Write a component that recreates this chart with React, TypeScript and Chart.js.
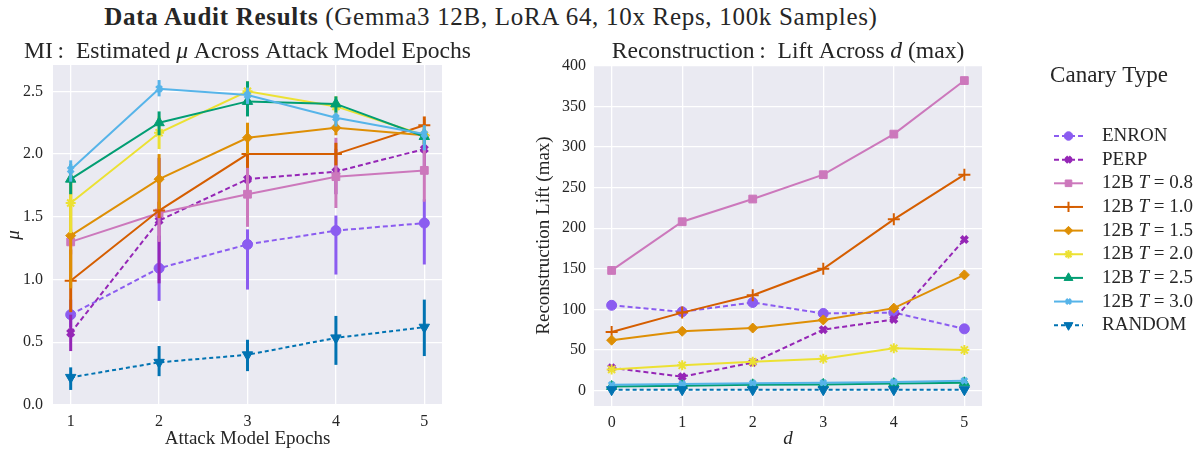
import React, { useEffect, useRef } from "react";
import { Chart, registerables, PointElement } from "chart.js";

Chart.register(...registerables);

const FONT = "'Liberation Serif', 'Times New Roman', serif";
const TEXT = "#262626";
const PANEL_BG = "#eaeaf2";

// ---------- categories / ticks ----------
const epochs = [1, 2, 3, 4, 5];
const depths = [0, 1, 2, 3, 4, 5];
const miYTicks = [0, 0.5, 1.0, 1.5, 2.0, 2.5];
const recYTicks = [0, 50, 100, 150, 200, 250, 300, 350, 400];

const seriesLabels = [
  "ENRON",
  "PERP",
  "12B T = 0.8",
  "12B T = 1.0",
  "12B T = 1.5",
  "12B T = 2.0",
  "12B T = 2.5",
  "12B T = 3.0",
  "RANDOM",
];

// ---------- MI: estimated mu (mean, low, high) ----------
const miEnron = [0.72, 1.09, 1.28, 1.39, 1.45];
const miEnronLo = [0.62, 0.83, 0.92, 1.04, 1.12];
const miEnronHi = [0.84, 1.35, 1.4, 1.51, 1.64];

const miPerp = [0.575, 1.47, 1.8, 1.86, 2.04];
const miPerpLo = [0.43, 0.97, 1.6, 1.68, 1.9];
const miPerpHi = [0.72, 1.97, 2.0, 2.04, 2.15];

const miT08 = [1.3, 1.53, 1.68, 1.82, 1.87];
const miT08Lo = [1.2, 1.3, 1.42, 1.57, 1.62];
const miT08Hi = [1.4, 1.76, 1.92, 2.13, 2.05];

const miT10 = [0.99, 1.55, 2.0, 2.0, 2.23];
const miT10Lo = [0.74, 1.49, 1.89, 1.91, 2.17];
const miT10Hi = [1.24, 1.62, 2.1, 2.09, 2.3];

const miT15 = [1.35, 1.8, 2.13, 2.21, 2.15];
const miT15Lo = [0.93, 1.56, 2.0, 2.15, 2.08];
const miT15Hi = [1.77, 2.0, 2.25, 2.27, 2.22];

const miT20 = [1.61, 2.17, 2.5, 2.38, 2.15];
const miT20Lo = [1.37, 2.04, 2.4, 2.3, 2.08];
const miT20Hi = [1.85, 2.3, 2.58, 2.46, 2.22];

const miT25 = [1.8, 2.25, 2.42, 2.4, 2.14];
const miT25Lo = [1.68, 2.15, 2.3, 2.33, 2.08];
const miT25Hi = [1.92, 2.34, 2.58, 2.46, 2.2];

const miT30 = [1.875, 2.52, 2.47, 2.29, 2.16];
const miT30Lo = [1.78, 2.46, 2.4, 2.22, 2.03];
const miT30Hi = [1.95, 2.59, 2.53, 2.33, 2.23];

const miRandom = [0.22, 0.34, 0.4, 0.535, 0.62];
const miRandomLo = [0.12, 0.23, 0.27, 0.32, 0.39];
const miRandomHi = [0.3, 0.47, 0.52, 0.71, 0.84];

// ---------- Reconstruction lift (max) ----------
const recEnron = [105, 97, 108.5, 95, 96, 76];
const recPerp = [28, 17, 34.5, 75, 87.5, 186];
const recT08 = [148, 208, 236, 266, 316, 382];
const recT10 = [72, 96, 117.5, 150, 211, 266];
const recT15 = [62, 73, 77, 87, 101.5, 142.5];
const recT20 = [26, 31, 35.5, 39, 52, 50];
const recT25 = [5, 6, 7, 7.5, 8.5, 9.5];
const recT30 = [7, 8, 9, 9.5, 10.5, 12];
const recRandom = [1, 1, 1, 1, 1, 1];

// ---------- styles ----------
type Style = {
  color: string;
  dash: number[];
  pointStyle: string;
  radius: number;
  pbw: number;
  rotation: number;
};
const styles: Style[] = [
  { color: "#8b5cf0", dash: [5, 3], pointStyle: "circle", radius: 5, pbw: 1, rotation: 0 },
  { color: "#9526b6", dash: [5, 3], pointStyle: "crossRot", radius: 4.5, pbw: 3.8, rotation: 0 },
  { color: "#cc78bc", dash: [], pointStyle: "rect", radius: 5.5, pbw: 1, rotation: 0 },
  { color: "#d55e00", dash: [], pointStyle: "cross", radius: 6, pbw: 2, rotation: 0 },
  { color: "#de8f05", dash: [], pointStyle: "rectRot", radius: 5, pbw: 1, rotation: 0 },
  { color: "#ece133", dash: [], pointStyle: "star", radius: 5, pbw: 2, rotation: 0 },
  { color: "#029e73", dash: [], pointStyle: "triangle", radius: 6, pbw: 1, rotation: 0 },
  { color: "#56b4e9", dash: [], pointStyle: "crossRot", radius: 4, pbw: 3, rotation: 0 },
  { color: "#0173b2", dash: [4, 3], pointStyle: "triangle", radius: 6, pbw: 1, rotation: 180 },
];

const miMeans = [miEnron, miPerp, miT08, miT10, miT15, miT20, miT25, miT30, miRandom];
const miLows = [miEnronLo, miPerpLo, miT08Lo, miT10Lo, miT15Lo, miT20Lo, miT25Lo, miT30Lo, miRandomLo];
const miHighs = [miEnronHi, miPerpHi, miT08Hi, miT10Hi, miT15Hi, miT20Hi, miT25Hi, miT30Hi, miRandomHi];
const recValues = [recEnron, recPerp, recT08, recT10, recT15, recT20, recT25, recT30, recRandom];

// ---------- plugins ----------
const bgPlugin = {
  id: "panelBg",
  beforeDraw(chart: any) {
    const { ctx, chartArea: a } = chart;
    ctx.save();
    ctx.fillStyle = PANEL_BG;
    ctx.fillRect(a.left, a.top, a.right - a.left, a.bottom - a.top);
    ctx.restore();
  },
};

const errorBarPlugin = {
  id: "errorBars",
  beforeDatasetDraw(chart: any, args: any) {
    const ds = chart.data.datasets[args.index];
    if (!ds.errLo) return;
    const xs = chart.scales.x;
    const ys = chart.scales.y;
    const ctx = chart.ctx;
    const a = chart.chartArea;
    ctx.save();
    ctx.beginPath();
    ctx.rect(a.left, a.top, a.right - a.left, a.bottom - a.top);
    ctx.clip();
    ctx.strokeStyle = ds.borderColor;
    ctx.lineWidth = 3;
    ctx.setLineDash([]);
    ctx.lineCap = "butt";
    ds.data.forEach((p: any, i: number) => {
      const x = xs.getPixelForValue(p.x);
      ctx.beginPath();
      ctx.moveTo(x, ys.getPixelForValue(ds.errLo[i]));
      ctx.lineTo(x, ys.getPixelForValue(ds.errHi[i]));
      ctx.stroke();
    });
    ctx.restore();
  },
};

type Seg = { text: string; italic?: boolean; bold?: boolean };

function drawSegments(ctx: CanvasRenderingContext2D, segs: Seg[], size: number, x: number, y: number, align: "left" | "center") {
  const fonts = segs.map((s) => `${s.italic ? "italic " : ""}${s.bold ? "bold " : ""}${size}px ${FONT}`);
  const widths = segs.map((s, i) => {
    ctx.font = fonts[i];
    return ctx.measureText(s.text).width;
  });
  const total = widths.reduce((p, c) => p + c, 0);
  let cx = align === "center" ? x - total / 2 : x;
  ctx.textAlign = "left";
  ctx.textBaseline = "middle";
  segs.forEach((s, i) => {
    ctx.font = fonts[i];
    ctx.fillText(s.text, cx, y);
    cx += widths[i];
  });
}

const panelTitlePlugin = {
  id: "panelTitle",
  afterDraw(chart: any, _args: any, opts: any) {
    if (!opts || !opts.segments) return;
    const { ctx, chartArea: a } = chart;
    ctx.save();
    ctx.fillStyle = TEXT;
    drawSegments(ctx, opts.segments, opts.size, (a.left + a.right) / 2, opts.y, "center");
    ctx.restore();
  },
};

function labelSegments(label: string): Seg[] {
  const m = label.match(/^(12B )T( = .*)$/);
  if (!m) return [{ text: label }];
  return [{ text: m[1] }, { text: "T", italic: true }, { text: m[2] }];
}

const sideLegendPlugin = {
  id: "sideLegend",
  afterDraw(chart: any, _args: any, opts: any) {
    if (!opts || !opts.x0) return;
    const ctx = chart.ctx;
    ctx.save();
    ctx.fillStyle = TEXT;
    drawSegments(ctx, [{ text: opts.title }], opts.titleSize, opts.titleX, opts.titleY, "center");
    const area = { left: 0, top: 0, right: chart.width, bottom: chart.height };
    chart.data.datasets.forEach((ds: any, i: number) => {
      const y = opts.y0 + i * opts.step;
      ctx.save();
      ctx.strokeStyle = ds.borderColor;
      ctx.lineWidth = 2;
      ctx.setLineDash(ds.borderDash || []);
      ctx.beginPath();
      ctx.moveTo(opts.x0, y);
      ctx.lineTo(opts.x0 + opts.handleLen, y);
      ctx.stroke();
      ctx.setLineDash([]);
      const pe: any = new (PointElement as any)({
        x: opts.x0 + opts.handleLen / 2,
        y,
        options: {
          pointStyle: ds.pointStyle,
          rotation: ds.pointRotation || 0,
          radius: ds.pointRadius * 0.85,
          borderWidth: ds.pointBorderWidth,
          borderColor: ds.pointBorderColor,
          backgroundColor: ds.pointBackgroundColor,
        },
      });
      pe.draw(ctx, area);
      ctx.restore();
      ctx.fillStyle = TEXT;
      drawSegments(ctx, labelSegments(ds.label), opts.size, opts.textX, y, "left");
    });
    ctx.restore();
  },
};

// ---------- dataset builders ----------
function makeDataset(i: number, xs: number[], ys: number[], lo?: number[], hi?: number[]) {
  const s = styles[i];
  return {
    label: seriesLabels[i],
    data: xs.map((x, k) => ({ x, y: ys[k] })),
    errLo: lo,
    errHi: hi,
    borderColor: s.color,
    backgroundColor: s.color,
    borderWidth: 2,
    borderDash: s.dash,
    pointStyle: s.pointStyle,
    pointRadius: s.radius,
    pointBorderWidth: s.pbw,
    pointRotation: s.rotation,
    pointBackgroundColor: s.color,
    pointBorderColor: s.color,
    pointHoverRadius: s.radius,
    tension: 0,
    order: styles.length - i,
  };
}

const tickFont = { family: FONT, size: 16 };
const labelFont = { family: FONT, size: 19 };

function fixedScaleSize(dim: "width" | "height", v: number) {
  return (scale: any) => {
    scale[dim] = v;
  };
}

function buildTicks(values: number[]) {
  return (scale: any) => {
    scale.ticks = values.map((v) => ({ value: v }));
  };
}

function leftConfig(): any {
  return {
    type: "line",
    data: {
      datasets: miMeans.map((m, i) => makeDataset(i, epochs, m, miLows[i], miHighs[i])),
    },
    options: {
      animation: false,
      responsive: false,
      events: [],
      layout: { padding: { left: 0, right: 58, top: 65, bottom: 0 } },
      plugins: {
        legend: { display: false },
        tooltip: { enabled: false },
        title: { display: false },
        panelTitle: {
          segments: [
            { text: "MI\u2009:\u2002Estimated " },
            { text: "\u03bc", italic: true },
            { text: " Across Attack Model Epochs" },
          ],
          size: 23.6,
          y: 52,
        },
      },
      scales: {
        x: {
          type: "linear",
          min: 0.8,
          max: 5.2,
          afterBuildTicks: buildTicks(epochs),
          afterFit: fixedScaleSize("height", 45),
          grid: { color: "#ffffff", lineWidth: 1.3, drawTicks: false },
          border: { display: false },
          ticks: { font: tickFont, color: TEXT, padding: 7, callback: (v: number) => String(v) },
          title: { display: true, text: "Attack Model Epochs", font: labelFont, color: TEXT, padding: { top: 0, bottom: 0 } },
        },
        y: {
          type: "linear",
          min: 0,
          max: 2.71,
          afterBuildTicks: buildTicks(miYTicks),
          afterFit: fixedScaleSize("width", 53),
          grid: { color: "#ffffff", lineWidth: 1.3, drawTicks: false },
          border: { display: false },
          ticks: { font: tickFont, color: TEXT, padding: 10, callback: (v: number) => v.toFixed(1) },
          title: { display: true, text: "\u03bc", font: { ...labelFont, style: "italic" }, color: TEXT, padding: { top: 3, bottom: 0 } },
        },
      },
    },
    plugins: [bgPlugin, errorBarPlugin, panelTitlePlugin],
  };
}

function rightConfig(): any {
  return {
    type: "line",
    data: {
      datasets: recValues.map((v, i) => makeDataset(i, depths, v)),
    },
    options: {
      animation: false,
      responsive: false,
      events: [],
      layout: { padding: { left: 0, right: 221, top: 65, bottom: 0 } },
      plugins: {
        legend: { display: false },
        tooltip: { enabled: false },
        title: { display: false },
        panelTitle: {
          segments: [
            { text: "Reconstruction\u2009:\u2002Lift Across " },
            { text: "d", italic: true },
            { text: " (max)" },
          ],
          size: 23.6,
          y: 52,
        },
        sideLegend: {
          title: "Canary Type",
          titleSize: 23,
          titleX: 579,
          titleY: 76,
          x0: 524,
          handleLen: 29,
          textX: 572,
          y0: 136,
          step: 23.65,
          size: 19,
        },
      },
      scales: {
        x: {
          type: "linear",
          min: -0.25,
          max: 5.25,
          afterBuildTicks: buildTicks(depths),
          afterFit: fixedScaleSize("height", 44),
          grid: { color: "#ffffff", lineWidth: 1.3, drawTicks: false },
          border: { display: false },
          ticks: { font: tickFont, color: TEXT, padding: 7, callback: (v: number) => String(v) },
          title: { display: true, text: "d", font: { ...labelFont, style: "italic" }, color: TEXT, padding: { top: 0, bottom: 0 } },
        },
        y: {
          type: "linear",
          min: -19.1,
          max: 401.2,
          afterBuildTicks: buildTicks(recYTicks),
          afterFit: fixedScaleSize("width", 64),
          grid: { color: "#ffffff", lineWidth: 1.3, drawTicks: false },
          border: { display: false },
          ticks: { font: tickFont, color: TEXT, padding: 8, callback: (v: number) => String(v) },
          title: { display: true, text: "Reconstruction Lift (max)", font: labelFont, color: TEXT, padding: { top: 3, bottom: 0 } },
        },
      },
    },
    plugins: [bgPlugin, panelTitlePlugin, sideLegendPlugin],
  };
}

export default function App() {
  const leftRef = useRef<HTMLCanvasElement>(null);
  const rightRef = useRef<HTMLCanvasElement>(null);

  useEffect(() => {
    const c1 = new Chart(leftRef.current as HTMLCanvasElement, leftConfig());
    const c2 = new Chart(rightRef.current as HTMLCanvasElement, rightConfig());
    return () => {
      c1.destroy();
      c2.destroy();
    };
  }, []);

  return (
    <div style={{ position: "absolute", left: 0, top: 0, width: 1203, height: 450, background: "#ffffff", overflow: "hidden" }}>
      <div
        style={{
          position: "absolute",
          left: 0,
          top: 3,
          width: 982,
          textAlign: "center",
          fontFamily: FONT,
          fontSize: 25,
          lineHeight: "28px",
          letterSpacing: "0.7px",
          color: TEXT,
          whiteSpace: "nowrap",
        }}
      >
        <span style={{ fontWeight: "bold" }}>Data Audit Results</span>
        <span> (Gemma3 12B, LoRA 64, 10x Reps, 100k Samples)</span>
      </div>
      <canvas ref={leftRef} width={500} height={450} style={{ position: "absolute", left: 0, top: 0, width: 500, height: 450 }} />
      <canvas ref={rightRef} width={673} height={450} style={{ position: "absolute", left: 530, top: 0, width: 673, height: 450 }} />
    </div>
  );
}
